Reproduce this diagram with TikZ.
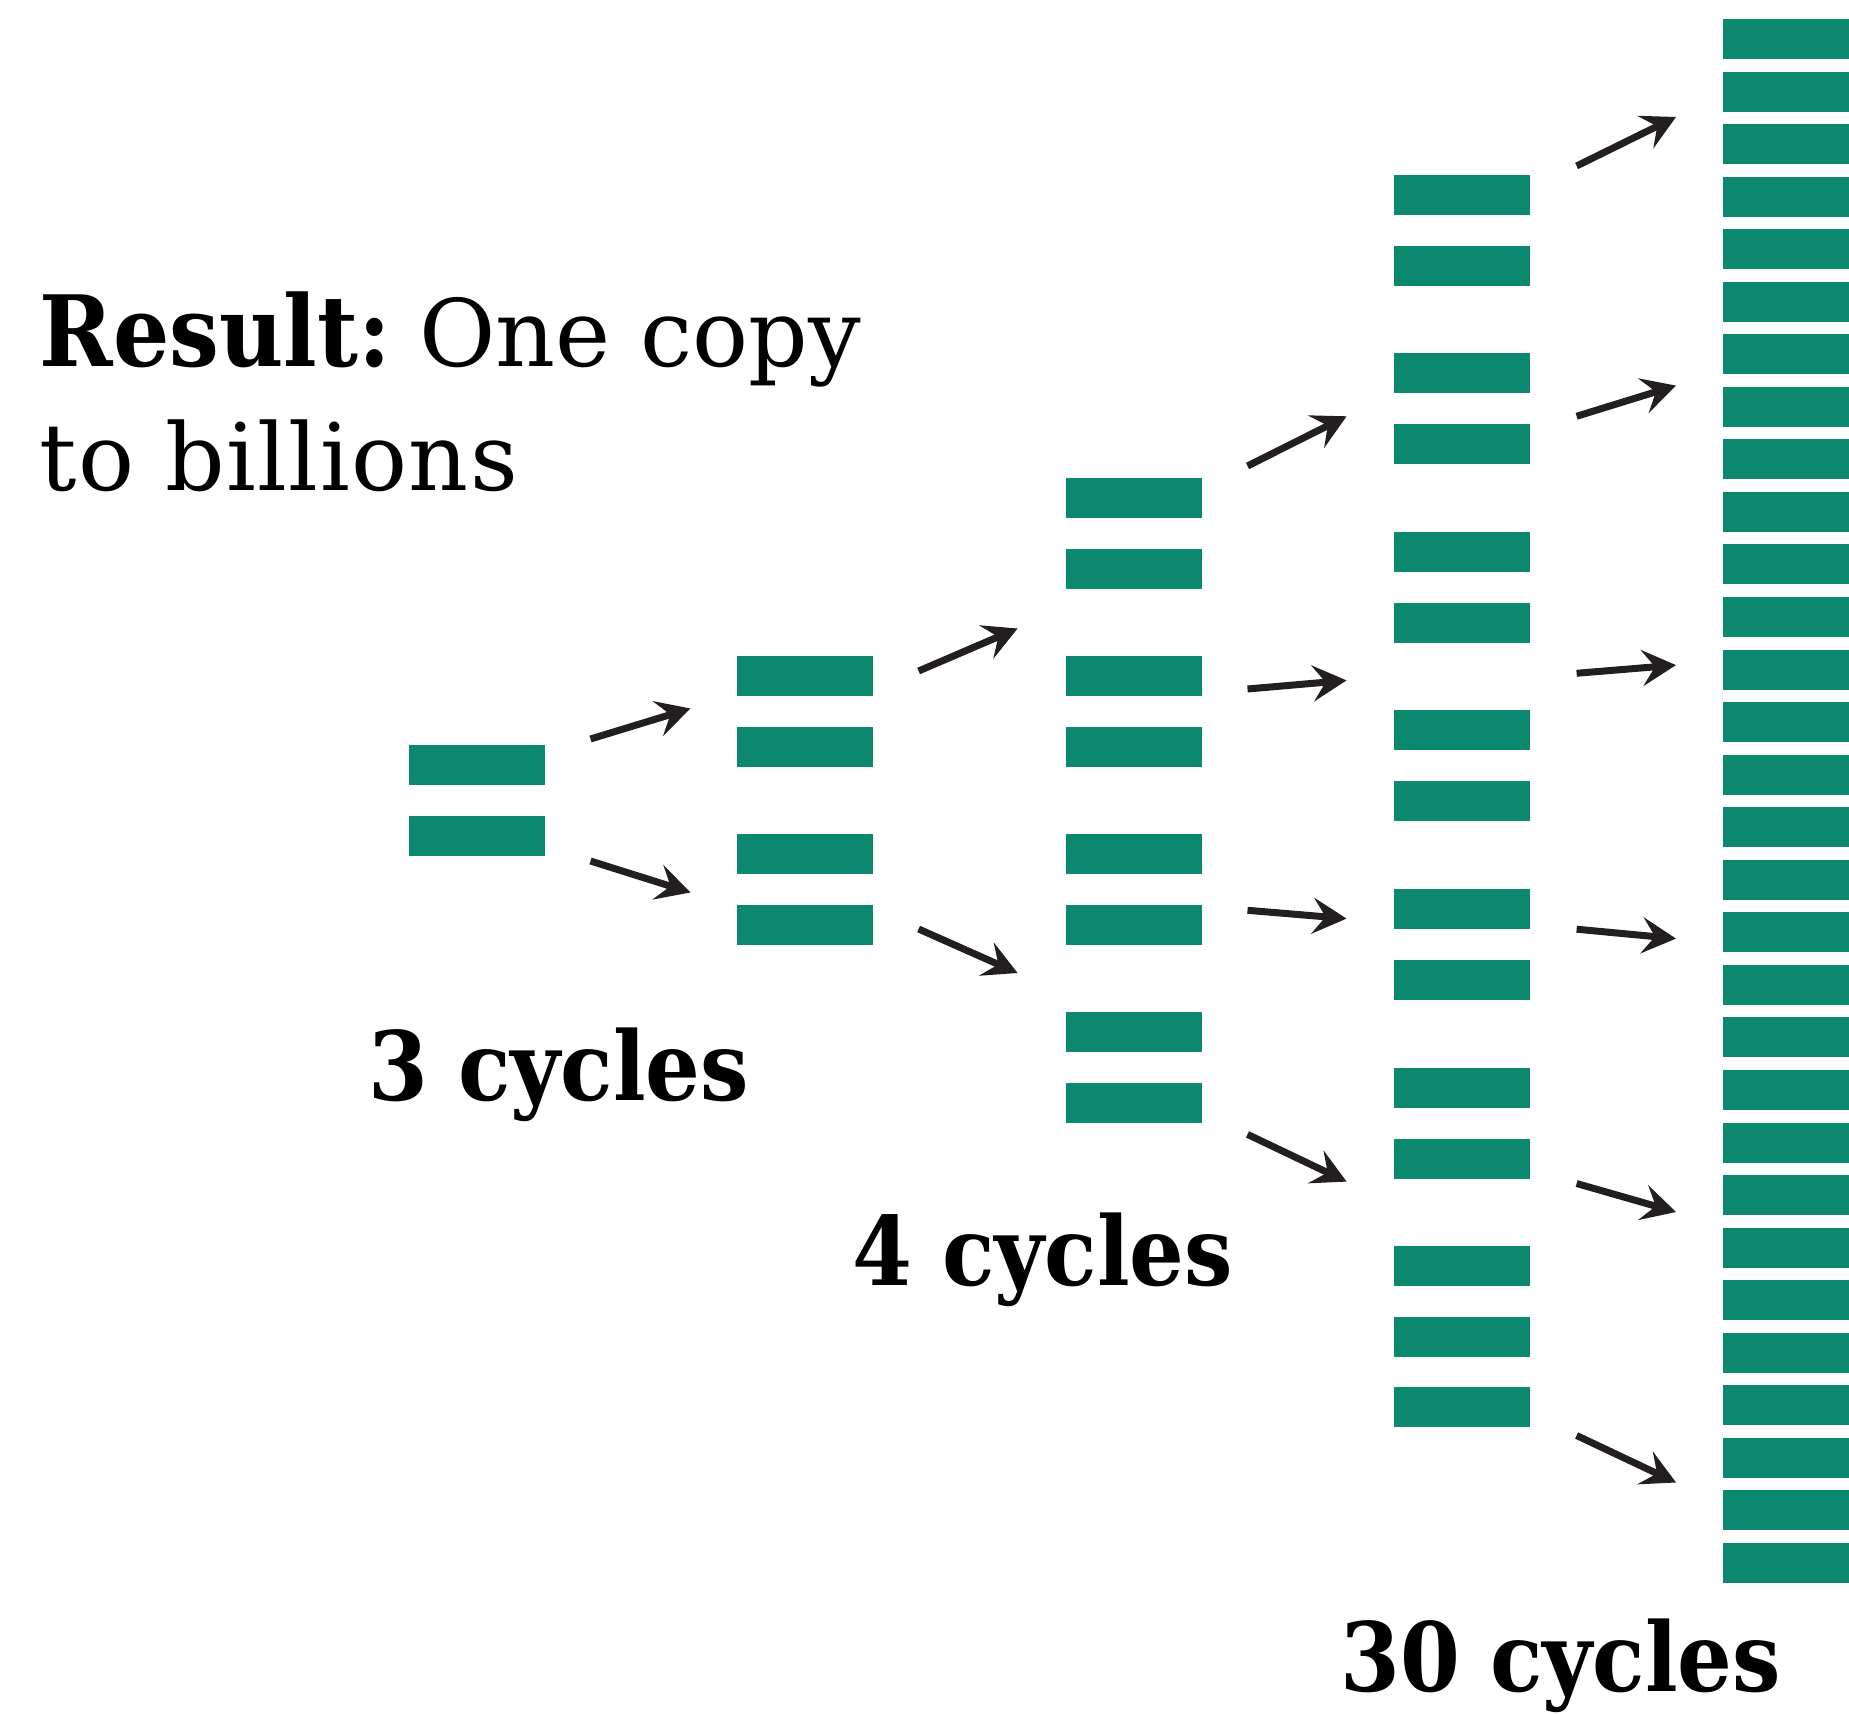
\documentclass[tikz,border=0pt]{standalone}
\usepackage{fontspec}
\setmainfont{DejaVu Serif}
\newfontfamily\zyklenfont{DejaVu Serif Condensed}
\usetikzlibrary{arrows.meta}
\definecolor{balkengruen}{HTML}{0C886F}
\definecolor{pfeilschwarz}{HTML}{231F20}

\tikzset{
  balken/.style={fill=balkengruen},
  pfeil/.style={-{Stealth[length=3.4mm, width=3.6mm, inset=1.3mm]}, line width=0.7mm, pfeilschwarz},
  titel/.style={anchor=base west, inner sep=0pt, font=\fontsize{26.5}{32}\selectfont},
  zyklen/.style={anchor=base west, inner sep=0pt, font=\zyklenfont\bfseries\fontsize{27.2}{32}\selectfont}
}

\begin{document}
\begin{tikzpicture}[x=0.1mm, y=-0.1mm]

    \useasboundingbox (0,0) rectangle (1849,1714);

    % Balken: Ausgangslage
    \foreach \y in {745,816}
        \fill[balken] (409,\y) rectangle ++(136,40);

    % Balken nach dem ersten Schritt
    \foreach \y in {656,727,834,905}
        \fill[balken] (737,\y) rectangle ++(136,40);

    % Balken nach dem zweiten Schritt (4 Paare)
    \foreach \p in {0,...,3}
        \foreach \d in {0,71}
            \fill[balken] (1066,{478+178*\p+\d}) rectangle ++(136,40);

    % Balken nach dem dritten Schritt (7 Paare und ein einzelner)
    \foreach \p in {0,...,6}
        \foreach \d in {0,71}
            \fill[balken] (1394,{175+178.5*\p+\d}) rectangle ++(136,40);
    \fill[balken] (1394,1387) rectangle ++(136,40);

    % Rechte Spalte, am Rand abgeschnitten
    \foreach \k in {0,...,29}
        \fill[balken] (1723,{19+52.55*\k}) rectangle (1849,{59+52.55*\k});

    % Pfeile zwischen den Spalten
    \draw[pfeil] (590.5,739) -- (690.5,708.5);
    \draw[pfeil] (590.5,861) -- (690.5,892.5);

    \draw[pfeil] (918.6,671) -- (1017.6,628.5);
    \draw[pfeil] (918.6,929) -- (1017.6,973);

    \draw[pfeil] (1247.5,466) -- (1346.6,416.3);
    \draw[pfeil] (1247.5,689) -- (1346.6,680.4);
    \draw[pfeil] (1247.5,910.3) -- (1346.6,918.6);
    \draw[pfeil] (1247.5,1134.4) -- (1346.6,1181.6);

    \draw[pfeil] (1576.6,166) -- (1676,117);
    \draw[pfeil] (1576.6,416.3) -- (1676,385.6);
    \draw[pfeil] (1576.6,673.3) -- (1676,665.1);
    \draw[pfeil] (1576.6,929.2) -- (1676,938.6);
    \draw[pfeil] (1576.6,1183.5) -- (1676,1212);
    \draw[pfeil] (1576.6,1435.5) -- (1676,1482.5);

    % Beschriftungen
    \node[titel] (ergebnis) at (39,367) {{\zyklenfont\bfseries\fontsize{28}{32}\selectfont Result:}\hspace{-0.12em} One copy};
    \node[titel] (milliarden) at (39,491) {\addfontfeature{LetterSpace=1.5}to billions};

    \node[zyklen] (drei) at (368,1100) {3 cycles};
    \node[zyklen] (vier) at (852,1285) {4 cycles};
    \node[zyklen] (dreissig) at (1340,1691) {30 cycles};

\end{tikzpicture}
\end{document}
